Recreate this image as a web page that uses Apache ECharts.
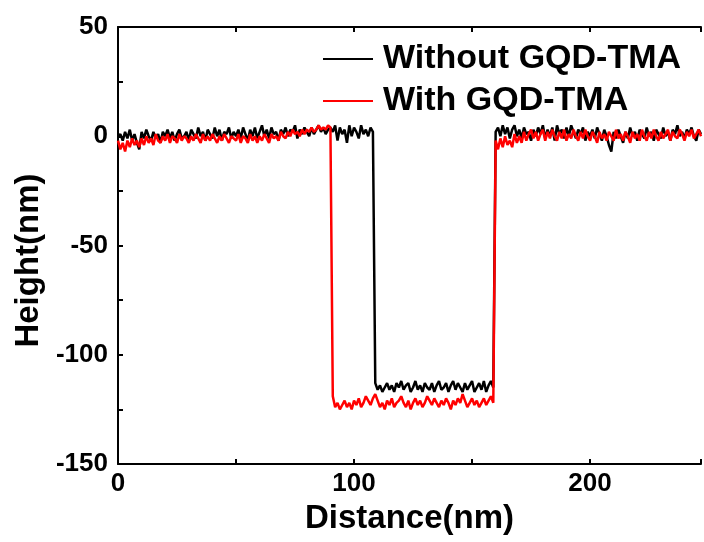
<!DOCTYPE html>
<html>
<head>
<meta charset="utf-8">
<script src="https://cdn.jsdelivr.net/npm/echarts@6/dist/echarts.min.js"></script>
<style>html,body{margin:0;padding:0;background:#fff}#c{width:704px;height:542px}</style>
</head>
<body>
<div id="c"></div>
<script>
// Sample positions (nm)
const distance = [
  0,1,2,3,4,5,6,7,8,9,10,11,12,13,14,15,16,17,18,19,
  20,21,22,23,24,25,26,27,28,29,30,31,32,33,34,35,36,37,38,39,
  40,41,42,43,44,45,46,47,48,49,50,51,52,53,54,55,56,57,58,59,
  60,61,62,63,64,65,66,67,68,69,70,71,72,73,74,75,76,77,78,79,
  80,81,82,83,84,85,86,87,88,89,90,91,92,93,94,95,96,97,98,99,
  100,101,102,103,104,105,106,107,108,109,110,111,112,113,114,115,116,117,118,119,
  120,121,122,123,124,125,126,127,128,129,130,131,132,133,134,135,136,137,138,139,
  140,141,142,143,144,145,146,147,148,149,150,151,152,153,154,155,156,157,158,159,
  160,161,162,163,164,165,166,167,168,169,170,171,172,173,174,175,176,177,178,179,
  180,181,182,183,184,185,186,187,188,189,190,191,192,193,194,195,196,197,198,199,
  200,201,202,203,204,205,206,207,208,209,210,211,212,213,214,215,216,217,218,219,
  220,221,222,223,224,225,226,227,228,229,230,231,232,233,234,235,236,237,238,239,
  240,241,242,243,244,245,246,247
];

// Height without GQD-TMA (nm)
const withoutGQD = [
  0, 1, -2, 2, -1, 3, -2, 1, -3, -6,
  2, -1, 3, 0, -2, 2, -1, 1, -3, 2,
  0, 3, -1, 2, -2, 1, 3, -1, 0, 2,
  -2, 3, 1, -1, 4, 0, 2, -2, 3, 1,
  -1, 4, 0, 3, -2, 2, 1, 4, -1, 2,
  0, 3, -1, 4, 1, -2, 3, 0, 4, -1,
  2, 5, 0, 3, -1, 4, 1, 2, -2, 3,
  1, 4, 0, 3, 2, 5, -1, 3, 1, 4,
  2, 0, 4, 1, 3, 5, 2, 4, 1, 3,
  4, 2, 5, -2, 4, 1, 3, -3, 5, 0,
  4, 2, -1, 5, 1, 3, 0, 4, 2,
  -113, -116, -114, -117, -115, -113, -116, -114, -117, -113, -115,
  -112, -116, -114, -113, -117, -115, -112, -116, -114, -117,
  -113, -115, -116, -113, -117, -114, -112, -116, -115, -113,
  -117, -114, -112, -116, -113, -115, -117, -113, -116, -114,
  -112, -117, -115, -113, -116, -112, -117, -114, -112, -115,
  2, 4, 0, 5, 1, 4, -1, 3, 5, 0,
  3, -1, 4, 1, 2, -2, 3, 0, 4, 1,
  5, -1, 3, 0, 4, -2, 5, 1, 3, -1,
  4, 0, 5, 2, -1, 3, 1, 4, -2, 2,
  0, 3, -1, 4, 1, -2, 3, 0, -4, -7,
  2, -1, 3, 0, -3, 2, -1, 4, 0, 2,
  -2, 3, 1, -1, 4, 0, 2, -2, 3, 1,
  -1, 4, 0, 2, -2, 3, 1, 5, 0, 2,
  -1, 3, 1, 4, 0, -2, 3, 1
];

// Height with GQD-TMA (nm)
const withGQD = [
  -2, -6, -3, -7, -2, -5, -1, -4, -2, -5,
  -1, -4, 0, -3, -1, -4, 1, -2, -3, 0,
  -2, 1, -3, 0, -1, -3, 1, -2, 0, -1,
  -3, 0, -2, 1, -1, -3, 1, -2, 0, -2,
  1, -1, -3, 0, -2, 1, -1, -3, 0, -1,
  -2, 1, -3, 0, -1, -3, 1, -2, 0, -3,
  0, -2, 1, -1, -3, 1, -1, 0, -2, 2,
  0, -1, 2, 0, 3, 1, 2, 0, 3, 1,
  3, 2, 4, 2, 3, 5, 3, 4, 3, 5,
  4,
  -119, -124, -122, -125, -123, -121, -124, -122, -125,
  -121, -123, -120, -124, -122, -119, -121, -123, -120, -118,
  -121, -124, -122, -125, -121, -123, -120, -124, -122, -121,
  -119, -122, -124, -121, -125, -122, -120, -123, -121, -124,
  -122, -119, -121, -123, -120, -122, -124, -121, -123, -120,
  -122, -125, -121, -123, -120, -122, -118, -121, -124, -122,
  -120, -123, -121, -124, -122, -120, -123, -121, -119, -122,
  -2, -6, -1, -5, 0, -4, -2, -5, 1, -3,
  0, -3, 2, -2, 1, 3, -1, 2, -2, 1,
  3, -2, 2, -1, 3, 0, -2, 2, -1, 3,
  -2, 1, -1, 3, 0, -2, 2, -1, 3, 0,
  -2, 2, 0, -3, 2, -1, 1, -2, 2, 0,
  -2, 3, -1, 1, -2, 2, 0, -3, 2, -1,
  1, -2, 3, 0, -2, 2, -1, 3, 0, -2,
  2, -1, 1, 3, -2, 2, 0, -1, 3, 1,
  -2, 2, 0, 3, -1, 1, 3, 0
];

const seriesNames = ['Without GQD-TMA', 'With GQD-TMA'];
const xTitle = 'Distance(nm)';
const yTitle = 'Height(nm)';

const FONT = '"Liberation Sans", Arial, sans-serif';
const pair = (ys) => distance.map((x, i) => [x, ys[i]]);

const chart = echarts.init(document.getElementById('c'), null, {renderer: 'canvas'});
const axisCommon = {
  axisLine: {show: true, onZero: false, lineStyle: {color: '#000', width: 2}},
  axisTick: {show: true, inside: true, length: 5, lineStyle: {color: '#000', width: 2}},
  splitLine: {show: false}
};
chart.setOption({
  animation: false,
  backgroundColor: '#fff',
  grid: {left: 118, right: 0, top: 27, bottom: 78},
  legend: {
    orient: 'vertical', left: 323, top: 38, padding: 0, itemGap: 0,
    itemWidth: 50, itemHeight: 2, icon: 'rect',
    textStyle: {fontFamily: FONT, fontWeight: 'bold', fontSize: 34, color: '#000',
      lineHeight: 30, padding: [0, 0, 12, 5]},
    data: seriesNames
  },
  xAxis: [
    Object.assign({
      type: 'value', min: 0, max: 247, interval: 50, position: 'bottom',
      name: xTitle, nameLocation: 'middle', nameGap: 38,
      nameTextStyle: {fontFamily: FONT, fontWeight: 'bold', fontSize: 33, color: '#000'},
      axisLabel: {fontFamily: FONT, fontWeight: 'bold', fontSize: 26, color: '#000', margin: 7,
        formatter: v => (v % 100 === 0 ? String(v) : '')}
    }, axisCommon),
    Object.assign({
      type: 'value', min: 0, max: 247, interval: 50, position: 'top',
      axisLabel: {show: false}
    }, axisCommon)
  ],
  yAxis: Object.assign({
    type: 'value', min: -150, max: 50, interval: 25,
    name: yTitle, nameLocation: 'middle', nameGap: 70, nameRotate: 90,
    nameTextStyle: {fontFamily: FONT, fontWeight: 'bold', fontSize: 33, color: '#000', padding: [0, 30, 0, 0]},
    axisLabel: {fontFamily: FONT, fontWeight: 'bold', fontSize: 26, color: '#000', margin: 10,
      formatter: v => (v % 50 === 0 ? String(v) : '')}
  }, axisCommon),
  series: [
    {name: seriesNames[0], type: 'line', xAxisIndex: 0, data: pair(withoutGQD), symbol: 'none',
      color: '#000', lineStyle: {color: '#000', width: 2.5}, z: 2},
    {name: seriesNames[1], type: 'line', xAxisIndex: 0, data: pair(withGQD), symbol: 'none',
      color: '#ff0000', lineStyle: {color: '#ff0000', width: 2.5}, z: 3}
  ]
});
</script>
</body>
</html>
